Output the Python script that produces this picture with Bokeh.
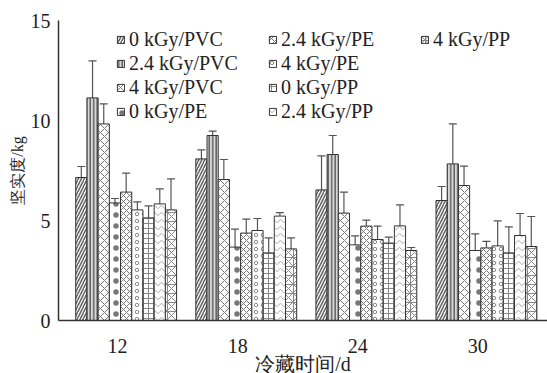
from bokeh.plotting import figure
from bokeh.models import (ColumnDataSource, Whisker, TeeHead, Range1d, FixedTicker,
                          Legend, LegendItem, Title)
from bokeh.embed import file_html
from bokeh.resources import INLINE

# ---- data ----
days = [12, 18, 24, 30]
day_labels = ["12", "18", "24", "30"]
series_names = ["0 kGy/PVC", "2.4 kGy/PVC", "4 kGy/PVC",
                "0 kGy/PE", "2.4 kGy/PE", "4 kGy/PE",
                "0 kGy/PP", "2.4 kGy/PP", "4 kGy/PP"]
m_0_pvc = [7.15, 8.08, 6.53, 6.00]
m_24_pvc = [11.13, 9.25, 8.30, 7.83]
m_4_pvc = [9.83, 7.05, 5.37, 6.75]
m_0_pe = [5.88, 3.67, 3.78, 3.50]
m_24_pe = [6.42, 4.37, 4.72, 3.63]
m_4_pe = [5.53, 4.50, 4.05, 3.73]
m_0_pp = [5.13, 3.38, 3.87, 3.38]
m_24_pp = [5.83, 5.22, 4.73, 4.25]
m_4_pp = [5.53, 3.58, 3.50, 3.70]
e_0_pvc = [0.55, 0.45, 1.70, 0.70]
e_24_pvc = [1.85, 0.22, 0.95, 2.00]
e_4_pvc = [1.00, 1.00, 1.05, 0.97]
e_0_pe = [0.22, 0.90, 0.45, 0.83]
e_24_pe = [0.95, 0.70, 0.30, 0.33]
e_4_pe = [0.40, 0.60, 0.67, 1.25]
e_0_pp = [0.60, 0.75, 0.30, 1.30]
e_24_pp = [0.75, 0.17, 1.05, 1.10]
e_4_pp = [1.55, 0.55, 0.15, 1.50]
y_ticks = [0, 5, 10, 15]

means = [m_0_pvc, m_24_pvc, m_4_pvc, m_0_pe, m_24_pe, m_4_pe, m_0_pp, m_24_pp, m_4_pp]
errs = [e_0_pvc, e_24_pvc, e_4_pvc, e_0_pe, e_24_pe, e_4_pe, e_0_pp, e_24_pp, e_4_pp]

# ---- styles ----
FONT = "Liberation Serif"
styles = [
    dict(hatch_pattern="/", hatch_scale=6, hatch_weight=1.6, hatch_color="#666", fill_color="white"),
    dict(hatch_pattern="|", hatch_scale=3.5, hatch_weight=1.6, hatch_color="#666", fill_color="#d8d8d8"),
    dict(hatch_pattern="x", hatch_scale=8, hatch_weight=1.0, hatch_color="#777", fill_color="white"),
    dict(hatch_pattern=".", hatch_scale=11, hatch_weight=3, hatch_color="#777", fill_color="white"),
    dict(hatch_pattern="x", hatch_scale=6, hatch_weight=1.0, hatch_color="#777", fill_color="white"),
    dict(hatch_pattern="o", hatch_scale=7, hatch_weight=1.0, hatch_color="#888", fill_color="white"),
    dict(hatch_pattern="+", hatch_scale=5, hatch_weight=1.0, hatch_color="#888", fill_color="white"),
    dict(hatch_pattern="v", hatch_scale=7, hatch_weight=1.0, hatch_color="#aaa", fill_color="white"),
    dict(hatch_pattern="*", hatch_scale=9, hatch_weight=1.0, hatch_color="#888", fill_color="white"),
]

BAR_W = 0.56      # in days
GROUP_SHIFT = 0.43
x0, x1 = 9.05, 33.48

p = figure(width=547, height=373, output_backend="svg", toolbar_location=None,
           x_range=Range1d(x0, x1), y_range=Range1d(0, 15),
           min_border_left=58, min_border_right=0, min_border_top=20, min_border_bottom=53)

items = []
n = len(series_names)
for i, (name, m, e, st) in enumerate(zip(series_names, means, errs, styles)):
    xs = [d + GROUP_SHIFT + (i - (n - 1) / 2) * BAR_W for d in days]
    src = ColumnDataSource(dict(x=xs, top=m,
                                upper=[a + b for a, b in zip(m, e)],
                                lower=[a - b for a, b in zip(m, e)]))
    r = p.vbar(x="x", top="top", bottom=0, width=BAR_W, source=src,
               line_color="#333", line_width=1.0, **st)
    items.append(LegendItem(label=name, renderers=[r]))
    w = Whisker(source=src, base="x", upper="upper", lower="lower",
                line_color="#555", line_width=1.2,
                upper_head=TeeHead(size=8, line_color="#555", line_width=1.2),
                lower_head=TeeHead(size=8, line_color="#555", line_width=1.2))
    p.add_layout(w)

legend = Legend(items=items, location=(58, 197), orientation="vertical", nrows=4,
                glyph_width=9, glyph_height=9, label_standoff=4, spacing=1,
                label_width=138, label_height=23, padding=0, margin=0,
                border_line_color=None, background_fill_alpha=0,
                label_text_font=FONT, label_text_font_size="20px",
                label_text_color="#222")
p.add_layout(legend)

# axes
p.xaxis.ticker = FixedTicker(ticks=days)
p.xaxis.major_label_overrides = {d: lab for d, lab in zip(days, day_labels)}
p.xaxis.minor_tick_line_color = None
p.xaxis.major_label_standoff = 12
p.yaxis.ticker = FixedTicker(ticks=y_ticks)
p.yaxis.major_tick_in = 5
p.yaxis.major_tick_out = 0
p.yaxis.minor_tick_line_color = None
p.yaxis.major_label_standoff = 8
p.yaxis.axis_label = "坚实度/kg"
p.yaxis.axis_label_standoff = 2
p.yaxis.axis_label_text_font_size = "16px"
for ax in (p.xaxis, p.yaxis):
    ax.axis_line_color = "#333"
    ax.axis_line_width = 1.5
    ax.major_tick_line_color = "#333" if ax is p.yaxis else None
    ax.major_tick_line_width = 1.5
    ax.major_label_text_font = FONT
    ax.major_label_text_font_size = "20px"
    ax.major_label_text_color = "#222"
    ax.axis_label_text_font = FONT
    ax.axis_label_text_font_style = "normal"
    ax.axis_label_text_color = "#222"

p.add_layout(Title(text="冷藏时间/d", align="center", vertical_align="middle",
                   text_font=FONT, text_font_size="20px", text_font_style="normal",
                   text_color="#222", standoff=-8), "below")

p.grid.visible = False
p.outline_line_color = None
p.background_fill_color = "white"

open("out.html", "w").write(file_html(p, INLINE))
